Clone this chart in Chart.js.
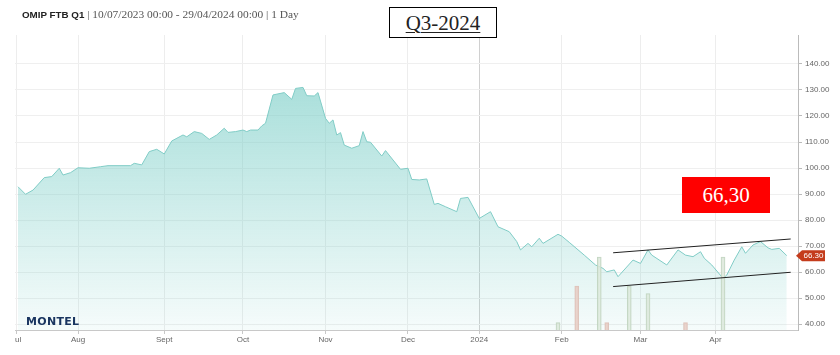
<!DOCTYPE html>
<html><head><meta charset="utf-8">
<script src="https://cdn.jsdelivr.net/npm/chart.js@4.4.1/dist/chart.umd.min.js"></script>
<style>
html,body{margin:0;padding:0;background:#fff;width:840px;height:355px;overflow:hidden;position:relative;font-family:"Liberation Sans",Arial,sans-serif}
#clip{position:absolute;left:15px;top:0;width:825px;height:355px;overflow:hidden}
#c{position:absolute;left:-15px;top:0}
#title{position:absolute;left:22px;top:8px;white-space:nowrap;color:#555;font-size:10px;line-height:12px}
#title b{font-family:"Liberation Sans",Arial,sans-serif;font-size:9.8px;color:#222}
#title span{font-family:"Liberation Serif",serif;font-size:11.4px}
#q3{position:absolute;left:389px;top:7px;width:108px;height:31px;border:1px solid #000;background:#fff;box-sizing:border-box;text-align:center;font-family:"Liberation Serif",serif;font-size:21px;line-height:30px;color:#222}
#q3 u{text-decoration:underline;text-decoration-thickness:1px;text-underline-offset:2px}
#val{position:absolute;left:682px;top:177px;width:88px;height:36px;background:#ff0000;color:#fff;text-align:center;font-family:"Liberation Serif",serif;font-size:21px;line-height:36px}
#logo{position:absolute;left:26px;top:315px;font-family:"DejaVu Sans",sans-serif;font-weight:bold;font-size:11px;color:#1a3560;letter-spacing:0.3px}
</style></head>
<body>
<div id="clip"><canvas id="c" width="840" height="355"></canvas></div>
<div id="title"><b>OMIP FTB Q1</b> <span>| 10/07/2023 00:00 - 29/04/2024 00:00 | 1 Day</span></div>
<div id="q3"><u>Q3-2024</u></div>
<div id="val">66,30</div>
<div id="logo">MONTEL</div>
<script>
// trading-day index (0 = 10/07/2023) and closing price
const tradingDay = [0,2,4,7,9,11,12,14,16,19,22,24,30,31,33,35,37,39,41,44,45,47,49,51,53,55,56,58,60,61,62,64,65,66,68,71,73,74,76,77,79,80,82,83,84,85,86,87,89,91,92,93,94,97,98,102,104,105,107,109,111,112,114,117,118,120,123,126,128,131,133,134,136,137,139,140,144,145,147,151,154,156,157,159,160,164,166,168,169,173,176,178,180,182,183,185,188,189,191,193,194,196,198,200,201,203,205];
const price = [92.8,89.9,91.5,96.3,96.7,99.9,97.3,98.2,100.1,99.9,100.5,100.9,100.9,101.8,101.2,106.3,107.2,105.4,110.4,112.7,112.0,114.0,113.3,111.0,112.7,115.3,113.7,114.0,114.6,114.0,114.6,114.6,116.2,117.2,128.1,129.0,126.4,130.6,131.0,127.8,127.7,129.0,119.1,117.2,118.5,112.7,113.6,108.8,107.6,108.6,114.0,110.1,109.9,104.6,106.7,99.5,99.9,95.6,95.4,95.8,86.0,86.4,85.1,83.2,88.3,88.7,80.6,83.2,77.4,75.5,71.7,68.5,71.0,69.7,73.0,71.0,74.5,73.8,71.4,66.5,62.7,61.4,60.1,60.8,58.2,64.6,63.3,68.5,66.5,62.7,68.5,66.5,65.9,67.8,65.3,62.7,57.6,58.8,64.6,69.7,67.2,70.4,71.7,69.3,68.7,69.1,66.3];
const monthTickDays = [-0.5,16,39,60,82,104,123,145,166,186];
const monthTickLabels = ['Jul','Aug','Sept','Oct','Nov','Dec','2024','Feb','Mar','Apr'];
const priceTicks = [40,50,60,70,80,90,100,110,120,130,140];
const volumeDays = [144,149,155,157,163,168,178,188];
const volumes = [10,60,100,10,60,50,10,100];
const volumeSide = ['buy','sell','buy','sell','buy','buy','sell','buy'];
const upperTrendDays = [158.7,206.05];
const upperTrendValues = [67.4,72.7];
const lowerTrendDays = [158.7,206.05];
const lowerTrendValues = [54.4,59.9];
const lastPrice = 66.30;

const flagPlugin = {
  id:'flag',
  afterDraw(chart){
    const ctx = chart.ctx, y = chart.scales.y.getPixelForValue(lastPrice);
    ctx.save();
    ctx.fillStyle = '#c43c1c';
    ctx.beginPath();
    ctx.moveTo(796, y); ctx.lineTo(802, y-5.5); ctx.lineTo(825, y-5.5);
    ctx.lineTo(825, y+5.5); ctx.lineTo(802, y+5.5); ctx.closePath(); ctx.fill();
    ctx.fillStyle = '#fff'; ctx.font = '8px "Liberation Sans", Arial';
    ctx.textAlign = 'center'; ctx.textBaseline = 'middle';
    ctx.fillText(lastPrice.toFixed(2), 813.5, y+0.5);
    ctx.restore();
  }
};

new Chart(document.getElementById('c'), {
  data: {
    datasets: [
      { type:'line', label:'upper', order:-1,
        data: upperTrendDays.map((d,i)=>({x:d,y:upperTrendValues[i]})),
        borderColor:'#222', borderWidth:1, pointRadius:0, fill:false },
      { type:'line', label:'lower', order:-1,
        data: lowerTrendDays.map((d,i)=>({x:d,y:lowerTrendValues[i]})),
        borderColor:'#222', borderWidth:1, pointRadius:0, fill:false },
      { type:'bar', label:'volume', order:0, yAxisID:'yv',
        data: volumeDays.map((d,i)=>({x:d,y:volumes[i]})),
        backgroundColor: volumeSide.map(s => s==='buy' ? 'rgba(222,234,220,0.75)' : 'rgba(232,206,198,0.85)'),
        borderColor: volumeSide.map(s => s==='buy' ? 'rgba(190,210,188,0.9)' : 'rgba(220,190,180,0.9)'),
        borderWidth:1, barThickness:4 },
      { type:'line', label:'OMIP FTB Q1', order:1, yAxisID:'y',
        data: tradingDay.map((d,i)=>({x:d,y:price[i]})),
        borderColor:'rgb(128,204,198)', borderWidth:1, pointRadius:0, tension:0,
        fill:'start',
        backgroundColor:(c)=>{
          const a = c.chart.chartArea; if(!a) return 'rgba(120,205,198,0.4)';
          const g = c.chart.ctx.createLinearGradient(0,a.top,0,a.bottom);
          g.addColorStop(0,'rgba(120,205,198,0.75)');
          g.addColorStop(1,'rgba(120,205,198,0.07)');
          return g;
        } }
    ]
  },
  options: {
    responsive:false, animation:false,
    layout:{padding:{top:35,left:15,right:0,bottom:0}},
    plugins:{legend:{display:false}, tooltip:{enabled:false}},
    scales:{
      x:{ type:'linear', min:-0.8, max:208, position:'bottom', offset:false,
        afterBuildTicks:(s)=>{ s.ticks = monthTickDays.map(v=>({value:v})); },
        afterFit:(s)=>{ s.height = 25; },
        ticks:{ autoSkip:false, maxRotation:0, padding:1, color:'#666',
          font:{size:8, family:'"Liberation Sans", Arial'},
          callback:(v,i)=>monthTickLabels[i] },
        grid:{ offset:false, color:(c)=> monthTickLabels[c.index]==='2024' ? '#d0d0d0' : '#ededed',
          tickLength:4, tickColor:'#c8c8c8' },
        border:{color:'#c8c8c8'} },
      y:{ type:'linear', position:'right', min:37.7, max:151.15,
        afterBuildTicks:(s)=>{ s.ticks = priceTicks.map(v=>({value:v})); },
        afterFit:(s)=>{ s.width = 42; },
        ticks:{ padding:3, color:'#666', font:{size:8, family:'"Liberation Sans", Arial'},
          callback:(v)=>Number(v).toFixed(2) },
        grid:{ color:'#efefef', tickLength:4, tickColor:'#bbb' },
        border:{color:'#bbb'} },
      yv:{ type:'linear', display:false, min:0, max:404 }
    }
  },
  plugins:[flagPlugin]
});
</script>
</body></html>
